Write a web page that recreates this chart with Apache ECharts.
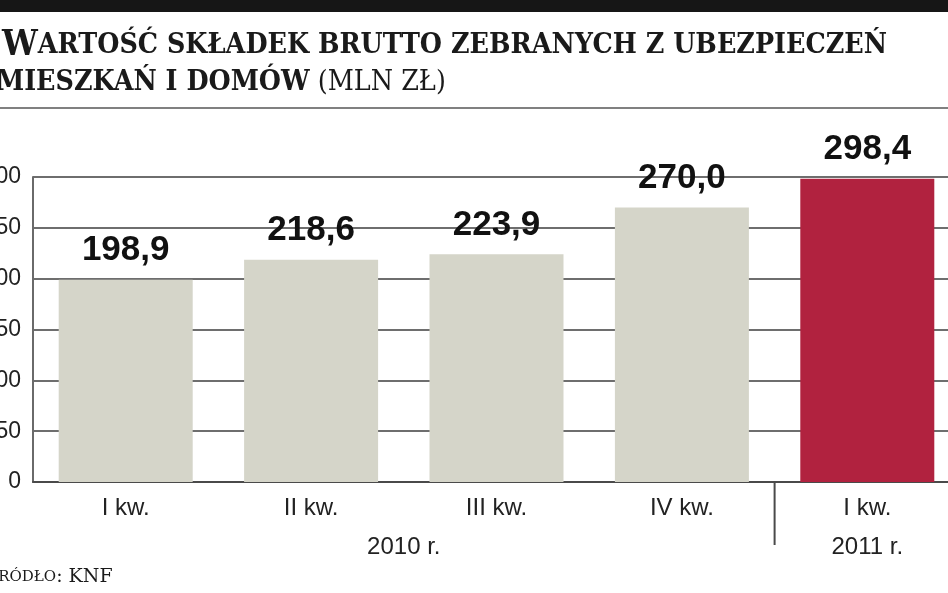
<!DOCTYPE html>
<html><head><meta charset="utf-8">
<script src="https://cdn.jsdelivr.net/npm/echarts@6/dist/echarts.min.js"></script>
<style>html,body{margin:0;padding:0;background:#fff}#c{width:948px;height:593px}</style>
</head><body><div id="c"></div>
<script>
const categories = ['I kw.', 'II kw.', 'III kw.', 'IV kw.', 'I kw.'];
const values = [198.9, 218.6, 223.9, 270.0, 298.4];
const highlightIndex = 4;
const yearLabels = ['2010 r.', '2011 r.'];
const yearGroups = [[0, 3], [4, 4]];
const yTicks = [0, 50, 100, 150, 200, 250, 300];

const chart = echarts.init(document.getElementById('c'));
const opt = {
  animation: false,
  backgroundColor: '#fff',
  grid: { left: 33, top: 177, width: 927, height: 305, containLabel: false, outerBoundsMode: 'none' },
  xAxis: {
    type: 'category', data: categories,
    axisLine: { lineStyle: { color: '#4a4a4a', width: 2 } },
    axisTick: { show: false },
    axisLabel: { color: '#222', fontFamily: 'Liberation Sans', fontSize: 24, margin: 14, interval: 0 }
  },
  yAxis: {
    type: 'value', min: 0, max: yTicks[yTicks.length - 1], interval: 50,
    axisLine: { show: true, lineStyle: { color: '#6a6a6a', width: 2 } },
    axisTick: { show: false },
    splitLine: { lineStyle: { color: '#6e6e6e', width: 2 } },
    axisLabel: { color: '#222', fontFamily: 'Liberation Sans', fontSize: 23, margin: 12 }
  },
  series: [{
    type: 'bar', barWidth: 134,
    data: values.map((v, i) => ({ value: v, itemStyle: { color: i === highlightIndex ? '#b1223f' : '#d5d5c9' } })),
    label: { show: true, position: 'top', distance: 12, color: '#111',
      fontFamily: 'Liberation Sans', fontWeight: 'bold', fontSize: 35,
      formatter: p => p.value.toFixed(1).replace('.', ',') }
  }],
  graphic: []
};
chart.setOption(opt);

const serif = { fontFamily: 'DejaVu Serif', fill: '#1a1a1a' };
const g = [
  { type: 'rect', shape: { x: 0, y: 0, width: 948, height: 12 }, style: { fill: '#161616' } },
  { type: 'rect', shape: { x: 0, y: 107, width: 948, height: 2 }, style: { fill: '#808080' } },
  { type: 'text', x: 2, y: 28, scaleX: 0.91, style: {
      text: '{a|W}{b|ARTOŚĆ SKŁADEK BRUTTO ZEBRANYCH Z UBEZPIECZEŃ}',
      rich: { a: Object.assign({ fontSize: 35, fontWeight: 'bold' }, serif), b: Object.assign({ fontSize: 28, fontWeight: 'bold' }, serif) } } },
  { type: 'text', x: -4, y: 69, scaleX: 0.91, style: {
      text: '{b|MIESZKAŃ I DOMÓW}{c| (MLN ZŁ)}',
      rich: { b: Object.assign({ fontSize: 28, fontWeight: 'bold' }, serif), c: Object.assign({ fontSize: 28, fontWeight: 'normal' }, serif) } } },
  { type: 'text', x: -15, y: 568, style: {
      text: '{a|Ź}{b|RÓDŁO}{a|: KNF}',
      rich: { a: Object.assign({ fontSize: 19 }, serif), b: Object.assign({ fontSize: 15 }, serif) } } }
];
// separator between year groups, placed at the category boundary
const bx = (chart.convertToPixel({ xAxisIndex: 0 }, 3) + chart.convertToPixel({ xAxisIndex: 0 }, 4)) / 2;
const by = chart.convertToPixel({ yAxisIndex: 0 }, 0);
g.push({ type: 'line', shape: { x1: bx, y1: by, x2: bx, y2: by + 63 }, style: { stroke: '#4a4a4a', lineWidth: 2 } });
yearGroups.forEach((grp, k) => {
  const x0 = chart.convertToPixel({ xAxisIndex: 0 }, grp[0]);
  const x1 = chart.convertToPixel({ xAxisIndex: 0 }, grp[1]);
  g.push({ type: 'text', x: (x0 + x1) / 2, y: 547, style: {
    text: yearLabels[k], fill: '#222', fontFamily: 'Liberation Sans', fontSize: 24, align: 'center', verticalAlign: 'middle' } });
});
chart.setOption({ graphic: g });
</script></body></html>
